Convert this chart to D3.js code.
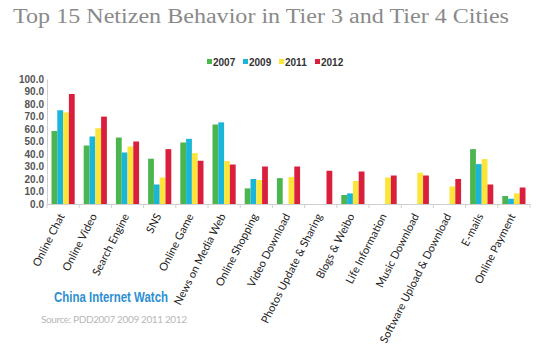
<!DOCTYPE html>
<html>
<head>
<meta charset="utf-8">
<script src="https://cdn.jsdelivr.net/npm/d3@7"></script>
<style>
  body { margin: 0; background: #fff; }
</style>
</head>
<body>
<div id="chart"></div>
<script>
const width = 550
const height = 347
const margin = { top: 79, bottom: 143, left: 47, right: 20 }

const categories = ["Online Chat", "Online Video", "Search Engine", "SNS", "Online Game",
  "News on Media Web", "Online Shopping", "Video Download", "Photos Update & Sharing",
  "Blogs & Weibo", "Life Information", "Music Download", "Software Upload & Download",
  "E-mails", "Online Payment"]
const years = ["2007", "2009", "2011", "2012"]
const colors = ["#4bb54f", "#19b6d9", "#fbe53b", "#d91f3c"]
const v2007 = [58.4, 46.8, 53.2, 36.2, 49.2, 63.6, 12.5, 20.7, 0, 7.2, 0, 0, 0, 43.9, 6.4]
const v2009 = [75.0, 54.0, 41.2, 15.6, 52.1, 65.3, 20.0, 0, 0, 8.5, 0, 0, 0, 31.9, 4.2]
const v2011 = [73.3, 60.6, 46.0, 21.2, 40.7, 34.3, 19.2, 21.5, 0, 18.4, 21.2, 25.0, 14.0, 35.9, 8.5]
const v2012 = [88.0, 69.9, 50.0, 43.9, 34.6, 31.6, 30.0, 30.0, 26.6, 26.0, 22.8, 22.8, 20.0, 15.6, 13.2]
const yTicks = [0, 10, 20, 30, 40, 50, 60, 70, 80, 90, 100]

const series = [v2007, v2009, v2011, v2012]

let svg = d3.select("#chart").append("svg")
  .attr("width", width)
  .attr("height", height)

// title
svg.append("text")
  .attr("x", 13)
  .attr("y", 23)
  .attr("font-family", "Liberation Serif, serif")
  .attr("font-size", "20px")
  .attr("fill", "#8a8a8a")
  .attr("textLength", 496)
  .attr("lengthAdjust", "spacingAndGlyphs")
  .text("Top 15 Netizen Behavior in Tier 3 and Tier 4 Cities")

const chartW = 530 - margin.left
const chartH = height - margin.top - margin.bottom

let chart = svg.append("g").attr("transform", `translate(${margin.left},${margin.top})`)

let x = d3.scaleBand().domain(categories).range([0, chartW]).paddingInner(0.28).paddingOuter(0.14)
let x0 = d3.scaleBand().domain(categories).range([0, chartW])
let xInner = d3.scaleBand().domain(years).range([0, x.bandwidth()])
let y = d3.scaleLinear().domain([0, 100]).range([chartH, 0])

// y axis
let yAxis = d3.axisLeft(y).tickValues(yTicks).tickSize(0).tickPadding(3).tickFormat(d3.format(".1f"))
let yG = chart.append("g").call(yAxis)
yG.select(".domain").attr("stroke", "#cfcfcf")
yG.selectAll("text")
  .attr("font-family", "Liberation Sans, Arial, sans-serif")
  .attr("font-size", "10px")
  .attr("font-weight", "bold")
  .attr("fill", "#555")

// bars
years.forEach((yr, si) => {
  chart.append("g")
    .selectAll("rect")
    .data(series[si].map((v, i) => ({ cat: categories[i], value: v })))
    .join("rect")
    .attr("x", d => x(d.cat) + xInner(yr))
    .attr("y", d => y(d.value))
    .attr("width", xInner.bandwidth())
    .attr("height", d => chartH - y(d.value))
    .attr("fill", colors[si])
})

// x axis
let xAxis = d3.axisBottom(x0).tickSize(0).tickFormat("")
let xG = chart.append("g").attr("transform", `translate(0,${chartH})`).call(xAxis)
xG.select(".domain").attr("stroke", "#cfcfcf")
xG.selectAll(".bound")
  .data(d3.range(categories.length + 1))
  .join("line")
  .attr("class", "bound")
  .attr("x1", i => i * x0.step())
  .attr("x2", i => i * x0.step())
  .attr("y1", 0)
  .attr("y2", 4)
  .attr("stroke", "#cfcfcf")

chart.append("g")
  .selectAll("text")
  .data(categories)
  .join("text")
  .attr("transform", d => `translate(${x0(d) + x0.bandwidth() / 2 + 2},${chartH + 12}) rotate(-63)`)
  .attr("text-anchor", "end")
  .attr("font-family", "Lato, sans-serif")
  .attr("font-size", "11px")
  .attr("fill", "#222")
  .text(d => d)

// legend
let legend = svg.append("g").attr("transform", "translate(207,62)")
let entries = legend.selectAll("g")
  .data(years)
  .join("g")
  .attr("transform", (d, i) => `translate(${i * 36},0)`)
entries.append("rect")
  .attr("x", 0).attr("y", -3)
  .attr("width", 5).attr("height", 5)
  .attr("fill", (d, i) => colors[i])
entries.append("text")
  .attr("x", 6).attr("y", 3.5)
  .attr("font-family", "Liberation Sans, Arial, sans-serif")
  .attr("font-size", "10px")
  .attr("font-weight", "bold")
  .attr("fill", "#333")
  .text(d => d)

// watermark
svg.append("text")
  .attr("x", 54).attr("y", 302)
  .attr("font-family", "Liberation Sans, Arial, sans-serif")
  .attr("font-size", "14px")
  .attr("font-weight", "bold")
  .attr("fill", "#2c8fd3")
  .attr("textLength", 114)
  .attr("lengthAdjust", "spacingAndGlyphs")
  .text("China Internet Watch")

svg.append("text")
  .attr("x", 41).attr("y", 323)
  .attr("font-family", "Lato, sans-serif")
  .attr("font-size", "10px")
  .attr("fill", "#b8b8b8")
  .attr("textLength", 146)
  .text("Source: PDD2007 2009 2011 2012")
</script>
</body>
</html>
